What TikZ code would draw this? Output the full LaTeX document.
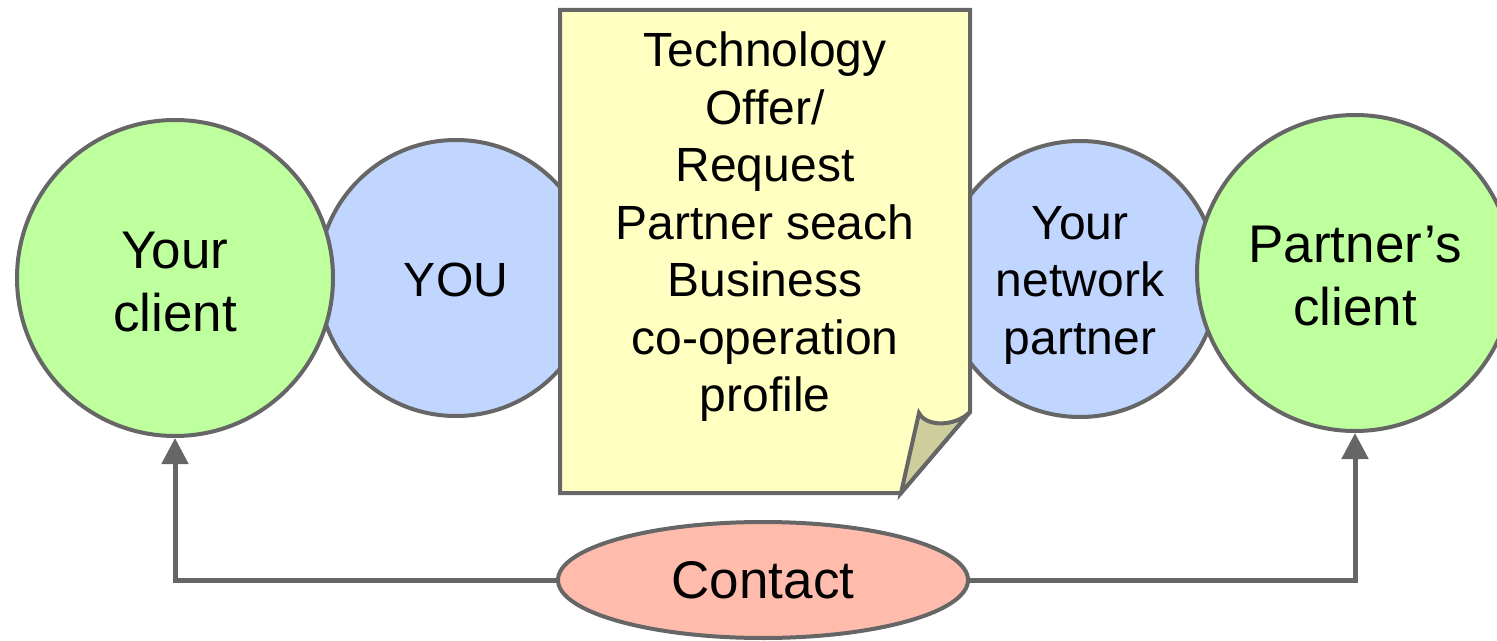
\documentclass[tikz,border=0pt]{standalone}
\usepackage{fontspec}
\setmainfont{Liberation Sans}
\usetikzlibrary{arrows.meta,shapes.geometric}

\definecolor{clientgreen}{RGB}{190,255,158}
\definecolor{partyblue}{RGB}{193,214,255}
\definecolor{notefill}{RGB}{255,255,194}
\definecolor{flapfill}{RGB}{206,206,156}
\definecolor{contactfill}{RGB}{255,188,172}
\definecolor{edgegray}{RGB}{102,102,102}

\tikzset{
  bubble/.style={circle, draw=edgegray, line width=2pt, inner sep=0pt},
  client/.style={bubble, fill=clientgreen, minimum size=158pt},
  party/.style={bubble, fill=partyblue, minimum size=138pt},
  bigtext/.style={align=center, inner sep=0pt, font=\fontsize{26.5}{31.5}\selectfont},
  plaintext/.style={align=center, inner sep=0pt, font=\fontsize{24}{28.75}\selectfont},
  paper/.style={draw=edgegray, line width=2pt, line join=miter},
  meeting/.style={ellipse, draw=edgegray, line width=2pt, fill=contactfill,
    minimum width=205pt, minimum height=58pt, inner sep=0pt,
    font=\fontsize{26.5}{31.5}\selectfont},
  link/.style={draw=edgegray, line width=2.5pt, -{Triangle[length=13pt,width=13pt]}},
}

\begin{document}
\begin{tikzpicture}[x=0.5pt,y=-0.5pt]
  \useasboundingbox (0,0) rectangle (1497,641);
  \clip (0,0) rectangle (1497,641);

  % the two intermediaries
  \node[party] (you) at (456,278) {};
  \node[party] (netpartner) at (1080,279) {};

  % the two clients
  \node[client] (yourclient) at (175,278) {};
  \node[client] (partnerclient) at (1355,273) {};

  % circle labels
  \node[plaintext] (youtext) at ([yshift=-1pt]you.center) {YOU};
  \node[plaintext] (nettext) at ([yshift=-3pt]netpartner.center) {Your\\network\\partner};
  \node[bigtext] (yctext) at ([yshift=-2pt]yourclient.center) {Your\\client};
  \node[bigtext] (pctext) at ([yshift=-1.5pt]partnerclient.center) {Partner’s\\client};

  % the profile sheet with a curled corner
  \path[paper, fill=notefill] (560,10) -- (970,10) -- (970,412) -- (901,493) -- (560,493) -- cycle;
  \path[paper, fill=flapfill] (901,493) -- (919,413)
    .. controls (926,427) and (955,427) .. (970,412) -- cycle;
  \node[plaintext] (profile) at (765,227)
    {Technology\\Offer/\\Request\\Partner seach\\Business\\co-operation\\profile};

  % contact between the clients
  \node[meeting] (contact) at (763,580) {Contact};
  \draw[link] (contact.west) -| (yourclient.south);
  \draw[link] (contact.east) -| (partnerclient.south);
\end{tikzpicture}
\end{document}
